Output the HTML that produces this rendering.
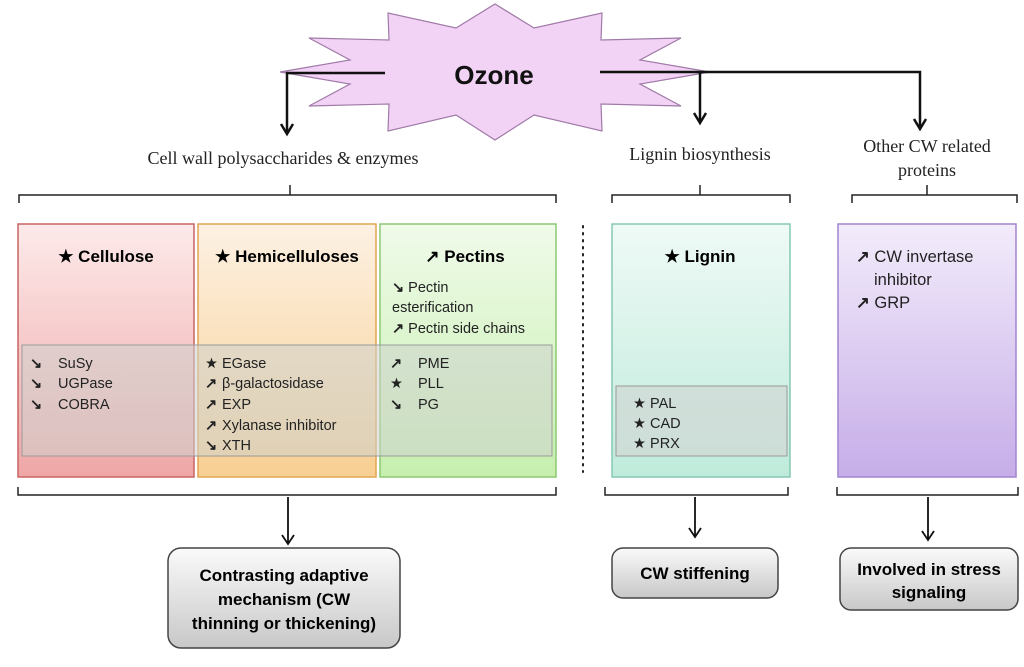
<!DOCTYPE html>
<html><head><meta charset="utf-8"><style>
body{margin:0;background:#fff}
svg text{font-family:"Liberation Sans",sans-serif}
.t{font-family:"Liberation Serif",serif;font-size:18px;fill:#222}
.h{font-weight:bold;font-size:17px}
.i{font-size:14.5px;fill:#222}
</style></head><body>
<svg width="1024" height="662" viewBox="0 0 1024 662" xmlns="http://www.w3.org/2000/svg">
<defs>
<linearGradient id="gr" x1="0" y1="0" x2="0" y2="1"><stop offset="0" stop-color="#fdeaea"/><stop offset="1" stop-color="#efa6a6"/></linearGradient>
<linearGradient id="go" x1="0" y1="0" x2="0" y2="1"><stop offset="0" stop-color="#fdf1e3"/><stop offset="1" stop-color="#f8cf92"/></linearGradient>
<linearGradient id="gg" x1="0" y1="0" x2="0" y2="1"><stop offset="0" stop-color="#f0fbea"/><stop offset="1" stop-color="#c6efae"/></linearGradient>
<linearGradient id="gt" x1="0" y1="0" x2="0" y2="1"><stop offset="0" stop-color="#effaf6"/><stop offset="1" stop-color="#bfebdb"/></linearGradient>
<linearGradient id="gp" x1="0" y1="0" x2="0" y2="1"><stop offset="0" stop-color="#f3ecfb"/><stop offset="1" stop-color="#c6ade8"/></linearGradient>
<linearGradient id="gb" x1="0" y1="0" x2="0" y2="1"><stop offset="0" stop-color="#fafafa"/><stop offset="1" stop-color="#c8c8c8"/></linearGradient>
</defs>
<polygon points="710,72 640,84 681,106 601,104 602,131 534,115 495,140 456,115 388,131 389,104 309,106 350,84 280,72 350,60 309,38 389,40 388,13 456,28 495,4 534,28 602,13 601,40 681,38 640,60" fill="#f3d3f5" stroke="#a07aa8" stroke-width="1.2"/>
<text x="494" y="84" text-anchor="middle" font-weight="bold" font-size="26" fill="#111">Ozone</text>
<g stroke="#111" stroke-width="2.5" fill="none">
<path d="M385,73 H287 V133"/>
<path d="M600,72 H920 V128"/>
<path d="M700,72 V122"/>
<path d="M281,124 L287,134 L293,124"/>
<path d="M694,113 L700,123 L706,113"/>
<path d="M914,119 L920,129 L926,119"/>
</g>
<text class="t" x="283" y="164" text-anchor="middle">Cell wall polysaccharides &amp; enzymes</text>
<text class="t" x="700" y="160" text-anchor="middle">Lignin biosynthesis</text>
<text class="t" x="927" y="152" text-anchor="middle">Other CW related</text>
<text class="t" x="927" y="176" text-anchor="middle">proteins</text>
<g stroke="#222" stroke-width="1.5" fill="none">
<path d="M19,203 V195 H556 V203 M290,195 V185"/>
<path d="M612,203 V195 H790 V203 M700,195 V185"/>
<path d="M852,203 V195 H1017 V203 M927,195 V185"/>
<path d="M18,487 V495 H556 V487"/>
<path d="M605,487 V495 H788 V487"/>
<path d="M837,487 V495 H1018 V487"/>
</g>
<g stroke="#111" stroke-width="1.8" fill="none">
<path d="M288,497 V543 M282,535 L288,544 L294,535"/>
<path d="M695,497 V536 M689,528 L695,537 L701,528"/>
<path d="M928,497 V539 M922,531 L928,540 L934,531"/>
</g>
<rect x="18" y="224" width="176" height="253" fill="url(#gr)" stroke="#c86464" stroke-width="1.5"/>
<rect x="198" y="224" width="178" height="253" fill="url(#go)" stroke="#e2a552" stroke-width="1.5"/>
<rect x="380" y="224" width="176" height="253" fill="url(#gg)" stroke="#8cc870" stroke-width="1.5"/>
<rect x="612" y="224" width="178" height="253" fill="url(#gt)" stroke="#86c8b2" stroke-width="1.5"/>
<rect x="838" y="224" width="178" height="253" fill="url(#gp)" stroke="#a283d0" stroke-width="1.5"/>
<line x1="583" y1="226" x2="583" y2="472" stroke="#222" stroke-width="2" stroke-dasharray="1.5,5.5" stroke-linecap="round"/>
<rect x="22" y="345" width="530" height="111" fill="rgba(205,210,205,0.55)" stroke="#9a9a9a" stroke-width="1"/>
<rect x="616" y="386" width="171" height="70" fill="rgba(210,215,212,0.7)" stroke="#9a9a9a" stroke-width="1"/>
<text class="h" x="106" y="262" text-anchor="middle">★ Cellulose</text>
<text class="h" x="287" y="262" text-anchor="middle">★ Hemicelluloses</text>
<text class="h" x="465" y="262" text-anchor="middle">↗ Pectins</text>
<text class="h" x="700" y="262" text-anchor="middle">★ Lignin</text>
<g class="i">
<text x="392" y="292"><tspan font-weight="bold">↘</tspan> Pectin</text>
<text x="392" y="312">esterification</text>
<text x="392" y="333"><tspan font-weight="bold">↗</tspan> Pectin side chains</text>
<g font-weight="bold"><text x="30" y="368">↘</text><text x="30" y="388">↘</text><text x="30" y="409">↘</text>
<text x="205" y="388">↗</text><text x="205" y="409">↗</text><text x="205" y="430">↗</text><text x="205" y="450">↘</text>
<text x="390" y="368">↗</text><text x="390" y="409">↘</text></g>
<text x="58" y="368">SuSy</text>
<text x="58" y="388">UGPase</text>
<text x="58" y="409">COBRA</text>
<text x="205" y="368">★</text><text x="222" y="368">EGase</text>
<text x="222" y="388">β-galactosidase</text>
<text x="222" y="409">EXP</text>
<text x="222" y="430">Xylanase inhibitor</text>
<text x="222" y="450">XTH</text>
<text x="418" y="368">PME</text>
<text x="390" y="388">★</text><text x="418" y="388">PLL</text>
<text x="418" y="409">PG</text>
<text x="633" y="408">★ PAL</text>
<text x="633" y="428">★ CAD</text>
<text x="633" y="448">★ PRX</text>
<text x="856" y="262" font-size="16.5"><tspan font-weight="bold">↗</tspan> CW invertase</text>
<text x="874" y="285" font-size="16.5">inhibitor</text>
<text x="856" y="308" font-size="16.5"><tspan font-weight="bold">↗</tspan> GRP</text>
</g>
<rect x="168" y="548" width="232" height="100" rx="13" fill="url(#gb)" stroke="#444" stroke-width="1.5"/>
<rect x="612" y="548" width="166" height="50" rx="11" fill="url(#gb)" stroke="#444" stroke-width="1.5"/>
<rect x="840" y="548" width="178" height="62" rx="11" fill="url(#gb)" stroke="#444" stroke-width="1.5"/>
<g class="h" text-anchor="middle" font-size="16">
<text x="284" y="581">Contrasting adaptive</text>
<text x="284" y="605">mechanism (CW</text>
<text x="284" y="629">thinning or thickening)</text>
<text x="695" y="579">CW stiffening</text>
<text x="929" y="575">Involved in stress</text>
<text x="929" y="598">signaling</text>
</g>
</svg>
</body></html>
